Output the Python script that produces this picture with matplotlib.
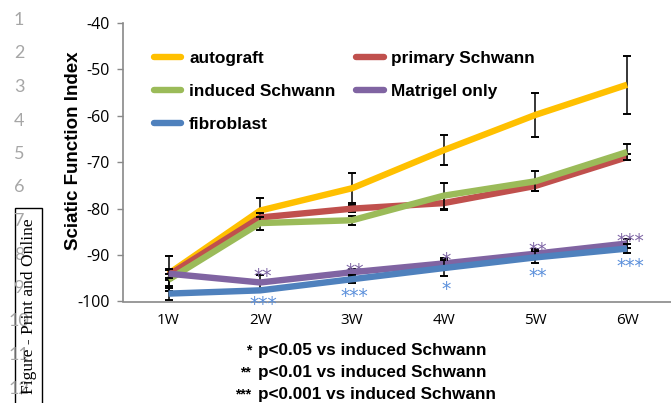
import matplotlib
matplotlib.use('Agg')
import matplotlib.pyplot as plt
from matplotlib.patches import Rectangle

weeks = ["1W", "2W", "3W", "4W", "5W", "6W"]
autograft = [-94.0, -80.4, -75.6, -67.4, -59.8, -53.3]
autograft_err = [3.7, 2.7, 3.2, 3.3, 4.8, 6.2]
primary = [-94.3, -81.9, -80.0, -78.8, -75.1, -68.9]
primary_err = [1.0, 1.0, 0.8, 1.5, 1.0, 0.7]
induced = [-95.3, -83.1, -82.5, -77.2, -74.1, -67.8]
induced_err = [1.3, 1.4, 1.0, 2.8, 2.2, 1.8]
matrigel = [-94.0, -95.9, -93.7, -91.8, -89.7, -87.5]
matrigel_err = [1.0, 1.7, 0.7, 1.1, 1.1, 0.9]
fibroblast = [-98.3, -97.6, -95.2, -92.8, -90.5, -88.6]
fibroblast_err = [1.3, 0.3, 0.9, 1.8, 1.3, 1.0]
matrigel_sig = ["", "**", "**", "*", "**", "***"]
fibroblast_sig = ["", "***", "***", "*", "**", "***"]
yticks = [-100, -90, -80, -70, -60, -50, -40]
notes_stars = ["*", "**", "***"]
notes_text = ["p<0.05 vs induced Schwann", "p<0.01 vs induced Schwann",
              "p<0.001 vs induced Schwann"]

series = [
    ("autograft", autograft, autograft_err, "#FFC000"),
    ("primary Schwann", primary, primary_err, "#C0504D"),
    ("induced Schwann", induced, induced_err, "#9BBB59"),
    ("Matrigel only", matrigel, matrigel_err, "#8064A2"),
    ("fibroblast", fibroblast, fibroblast_err, "#4F81BD"),
]

W, H = 671, 403
fig = plt.figure(figsize=(W / 100, H / 100), dpi=100)
ax = fig.add_axes([122.7 / W, 1 - 301.5 / H, 550.3 / W, 278.5 / H])

x = list(range(len(weeks)))
handles = {}
for i, (name, vals, err, col) in enumerate(series):
    ax.errorbar(x, vals, yerr=err, fmt='none', ecolor='black', elinewidth=1.1,
                capsize=2.9, capthick=1.4, zorder=2 + 2 * i)
    ln, = ax.plot(x, vals, color=col, lw=4.6, solid_joinstyle='round',
                  solid_capstyle='butt', zorder=3 + 2 * i, label=name)
    handles[name] = ln

# significance marks
fs_sig = 13.5
for i in x:
    if matrigel_sig[i]:
        ax.annotate(matrigel_sig[i], (i + 0.03, matrigel[i] + matrigel_err[i] + 0.8),
                    xytext=(0, -0.6 * fs_sig), textcoords='offset points',
                    ha='center', va='baseline', color='#7E65A5', fontsize=fs_sig,
                    family='DejaVu Sans', zorder=20)
    if fibroblast_sig[i]:
        ax.annotate(fibroblast_sig[i], (i + 0.03, fibroblast[i] - fibroblast_err[i] - 1.6),
                    xytext=(0, -0.6 * fs_sig), textcoords='offset points',
                    ha='center', va='baseline', color='#5A8FDB', fontsize=fs_sig,
                    family='DejaVu Sans', zorder=20, annotation_clip=False)

ax.set_xlim(-0.5, len(weeks) - 0.5)
ax.set_ylim(-100, -40)
ax.set_yticks(yticks)
ax.set_yticklabels([str(v) for v in yticks], family='Open Sans', fontsize=11.5)
ax.set_xticks(x)
ax.set_xticklabels(weeks, family='Open Sans', fontsize=11)
ax.tick_params(axis='y', direction='out', length=4, width=1, color='#898989', pad=5)
ax.tick_params(axis='x', length=0, pad=8)
for s in ['top', 'right']:
    ax.spines[s].set_visible(False)
for s in ['left', 'bottom']:
    ax.spines[s].set_color('#898989')
    ax.spines[s].set_linewidth(1.2)

order = ["autograft", "induced Schwann", "fibroblast", "primary Schwann", "Matrigel only"]
leg = ax.legend([handles[n] for n in order], order, ncol=2, frameon=False,
                loc='upper left', bbox_to_anchor=(0.044, 0.925),
                prop={'family': 'Liberation Sans', 'weight': 'bold', 'size': 12.4},
                handlelength=1.6, handletextpad=0.45, columnspacing=1.2,
                labelspacing=1.05, borderaxespad=0)
for lh in leg.get_lines():
    lh.set_linewidth(4.6)
    lh.set_solid_capstyle('round')

fig.text(74 / W, 1 - 151 / H, "Sciatic Function Index", rotation=90,
         ha='center', va='center', family='Liberation Sans', weight='bold', fontsize=13.5)

for k in range(3):
    yy = 1 - (350 + 22 * k) / H
    fig.text(251 / W, yy, notes_stars[k], ha='right', va='center',
             family='Liberation Sans', weight='bold', fontsize=10)
    fig.text(258 / W, yy, notes_text[k], ha='left', va='center',
             family='Liberation Sans', weight='bold', fontsize=12.3)

# manuscript line numbers and side box
for n in range(1, 13):
    fig.text(19 / W, 1 - (20 + (n - 1) * 33.5) / H, str(n), ha='center', va='center',
             color='#a6a6a6', family='Lato', fontsize=13)
fig.patches.append(Rectangle((15 / W, -0.05), 27 / W, 1 - 208 / H + 0.05,
                             transform=fig.transFigure, fill=False,
                             edgecolor='black', lw=1.0))
fig.text(29 / W, 1 - 306 / H, "Figure - Print and Online", rotation=90,
         ha='center', va='center', family='Liberation Serif', fontsize=12.5)

fig.savefig("out.png", dpi=100)
